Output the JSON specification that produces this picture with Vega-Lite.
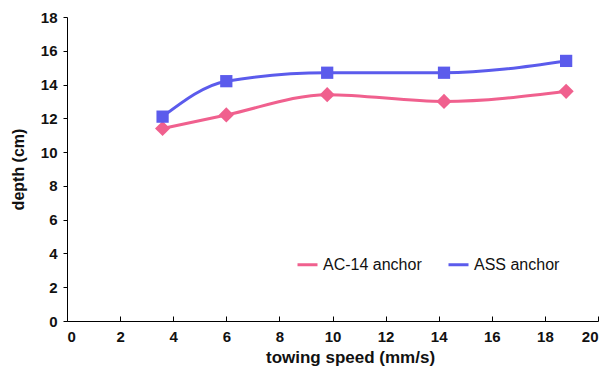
{
  "$schema": "https://vega.github.io/schema/vega-lite/v6.json",
  "width": 531,
  "height": 304,
  "autosize": {"type": "none"},
  "padding": {"left": 67, "top": 17, "right": 17, "bottom": 54},
  "background": "white",
  "config": {
    "view": {"stroke": null},
    "font": "Liberation Sans, Arial, sans-serif"
  },
  "data": {
    "values": [
      {"speed": 3.6, "depth": 11.4, "series": "AC-14 anchor"},
      {"speed": 6.0, "depth": 12.2, "series": "AC-14 anchor"},
      {"speed": 9.8, "depth": 13.4, "series": "AC-14 anchor"},
      {"speed": 14.2, "depth": 13.0, "series": "AC-14 anchor"},
      {"speed": 18.8, "depth": 13.6, "series": "AC-14 anchor"},
      {"speed": 3.6, "depth": 12.1, "series": "ASS anchor"},
      {"speed": 6.0, "depth": 14.2, "series": "ASS anchor"},
      {"speed": 9.8, "depth": 14.7, "series": "ASS anchor"},
      {"speed": 14.2, "depth": 14.7, "series": "ASS anchor"},
      {"speed": 18.8, "depth": 15.4, "series": "ASS anchor"}
    ]
  },
  "encoding": {
    "x": {
      "field": "speed", "type": "quantitative",
      "scale": {"domain": [0, 20], "nice": false},
      "axis": {
        "values": [0, 2, 4, 6, 8, 10, 12, 14, 16, 18, 20],
        "grid": false, "domainColor": "black", "tickColor": "black",
        "tickSize": -5, "labelPadding": 13,
        "labelFontSize": 15, "labelFontWeight": "bold", "labelColor": "#111",
        "title": "towing speed (mm/s)",
        "titleFontSize": 17, "titleFontWeight": "bold", "titleColor": "#111",
        "titlePadding": 5, "titleX": 283
      }
    },
    "y": {
      "field": "depth", "type": "quantitative",
      "scale": {"domain": [0, 18], "nice": false},
      "axis": {
        "values": [0, 2, 4, 6, 8, 10, 12, 14, 16, 18],
        "grid": false, "domainColor": "black", "tickColor": "black",
        "tickSize": 4, "labelPadding": 6,
        "labelFontSize": 15, "labelFontWeight": "bold", "labelColor": "#111",
        "title": "depth (cm)",
        "titleFontSize": 16, "titleFontWeight": "bold", "titleColor": "#111",
        "titlePadding": 14
      }
    }
  },
  "resolve": {"legend": {"color": "independent"}},
  "layer": [
    {
      "mark": {"type": "line", "interpolate": "monotone", "strokeWidth": 3},
      "encoding": {
        "color": {
          "field": "series", "type": "nominal",
          "scale": {"domain": ["AC-14 anchor", "ASS anchor"], "range": ["#f0608e", "#5b5bec"]},
          "legend": {
            "orient": "none", "legendX": 229, "legendY": 236,
            "direction": "horizontal", "title": null,
            "symbolType": "stroke", "symbolStrokeWidth": 3, "symbolSize": 400,
            "labelFontSize": 16, "labelColor": "#111", "columnPadding": 20,
            "labelOffset": 4
          }
        }
      }
    },
    {
      "mark": {"type": "point", "filled": true, "opacity": 1},
      "encoding": {
        "color": {"field": "series", "type": "nominal", "legend": null},
        "shape": {
          "field": "series", "type": "nominal",
          "scale": {"domain": ["AC-14 anchor", "ASS anchor"], "range": ["diamond", "square"]},
          "legend": null
        },
        "size": {
          "field": "series", "type": "nominal",
          "scale": {"domain": ["AC-14 anchor", "ASS anchor"], "range": [230, 150]},
          "legend": null
        }
      }
    }
  ]
}
